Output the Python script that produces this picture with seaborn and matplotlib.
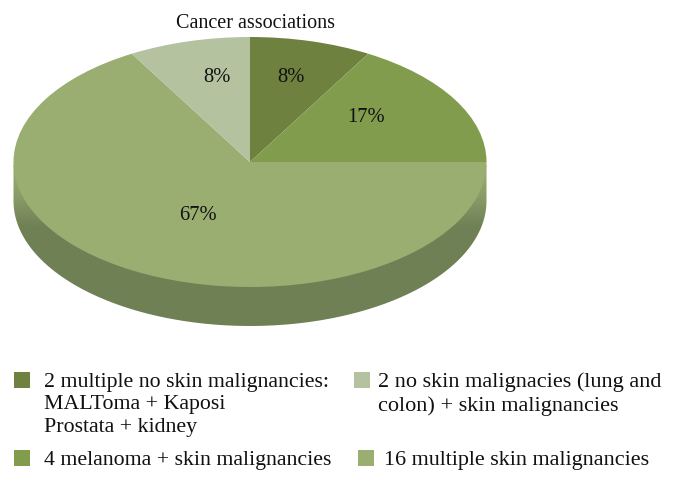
import numpy as np
import matplotlib
matplotlib.use("Agg")
import matplotlib.pyplot as plt
from matplotlib.colors import LinearSegmentedColormap
from matplotlib.patches import PathPatch, Rectangle
from matplotlib.path import Path
import seaborn as sns

# data
counts = [2, 4, 16, 2]
slice_colors = ["#6E813F", "#829C4E", "#9AAE72", "#B5C2A0"]
title = "Cancer associations"
legend_labels = [
    "2 multiple no skin malignancies:\nMALToma + Kaposi\nProstata + kidney",
    "2 no skin malignacies (lung and\ncolon) + skin malignancies",
    "4 melanoma + skin malignancies",
    "16 multiple skin malignancies",
]
legend_colors = ["#6E813F", "#B5C2A0", "#829C4E", "#9AAE72"]

# layout (pixels of the 675x483 canvas)
W, H = 675, 483
CX, CY, RX, RY, DEPTH = 250, 162, 236.5, 125, 39
label_px = [(291, 78), (366, 117), (198, 216), (217, 78)]
legend_swatch_px = [(14, 372), (354, 372), (14, 450), (358, 450)]
legend_text_px = [(44, 372.5), (378, 372.5), (44, 450.5), (384, 450.5)]
legend_sizes = [15.75, 16.0, 15.75, 15.95]

sns.set_theme(style="white")
plt.rcParams["font.family"] = ["Liberation Serif", "DejaVu Serif"]

fig = plt.figure(figsize=(W / 100, H / 100), dpi=100)
ax = fig.add_axes([0, 0, 1, 1])
FS_PCT = 14.8
FS_TITLE = 14.5


def dx(px):
    return (px - CX) / RX


def dy(py):
    return (CY - py) / RY


# rim of the disc with a vertical gradient
d = DEPTH / RY
t = np.linspace(np.pi, 2 * np.pi, 300)
verts = np.column_stack([np.cos(t), np.sin(t) - d])
verts = np.vstack([verts, [1, 0], [-1, 0], verts[0]])
rim = PathPatch(Path(verts), fc="none", ec="none", transform=ax.transData)
ax.add_patch(rim)
cmap = LinearSegmentedColormap.from_list("rim", ["#9AAE72", "#8A9C68", "#708056", "#6F8055"])
grad = np.linspace(0, 1, 256).reshape(-1, 1)
img = ax.imshow(grad, cmap=cmap, aspect="auto", origin="upper",
                extent=[-1.02, 1.02, dy(258), dy(165)], zorder=1)
img.set_clip_path(rim)
img2 = ax.imshow(np.ones((2, 2)), cmap=LinearSegmentedColormap.from_list("d", ["#6F8055", "#6F8055"]),
                 aspect="auto", extent=[-1.02, 1.02, dy(330), dy(258)], zorder=1)
img2.set_clip_path(rim)

wedges, _, autotexts = ax.pie(
    counts, colors=slice_colors, startangle=90, counterclock=False, radius=1,
    center=(0, 0), autopct="%.0f%%", frame=False,
    wedgeprops={"linewidth": 0, "zorder": 2},
    textprops={"fontsize": FS_PCT, "color": "#111111", "zorder": 3},
)
for txt, (px, py) in zip(autotexts, label_px):
    txt.set_position((dx(px), dy(py)))

ax.set_aspect("auto")
ax.set_xlim(dx(0), dx(W))
ax.set_ylim(dy(H), dy(0))
ax.axis("off")


def fx(px):
    return px / W


def fy(py):
    return 1 - py / H


fig.text(fx(256), fy(24), title, fontsize=FS_TITLE, color="#111111", ha="center", va="center")
for (sx, sy), col in zip(legend_swatch_px, legend_colors):
    fig.add_artist(Rectangle((fx(sx), fy(sy + 16)), 16 / W, 16 / H, transform=fig.transFigure,
                             fc=col, ec="none"))
for (lx, ly), lab, size in zip(legend_text_px, legend_labels, legend_sizes):
    fig.text(fx(lx), fy(ly), lab, fontsize=size, color="#111111", ha="left", va="top", linespacing=1.27)

fig.savefig("out.png", dpi=100)
